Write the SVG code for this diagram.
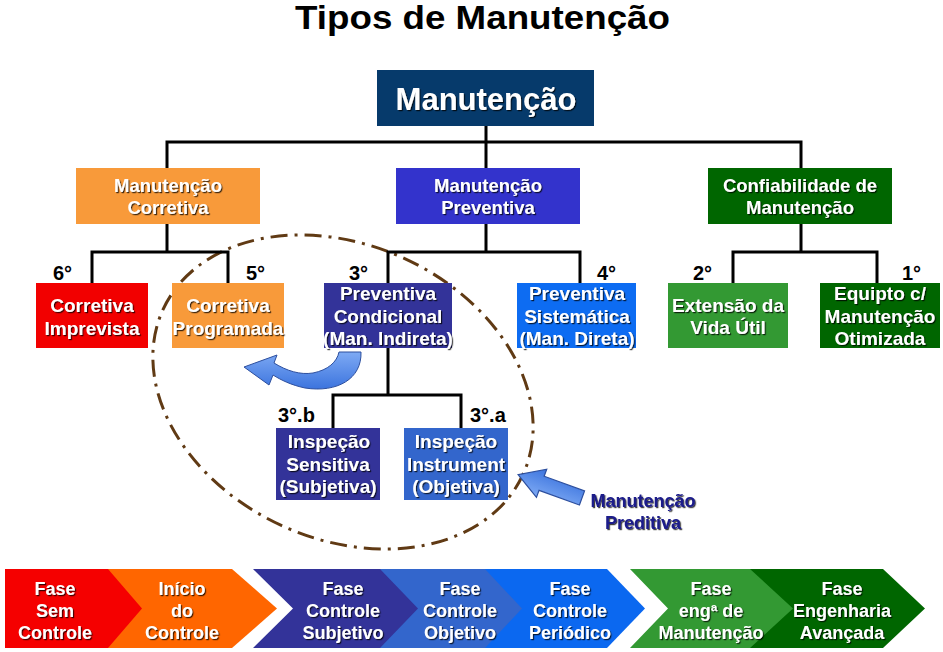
<svg xmlns="http://www.w3.org/2000/svg" width="943" height="652" viewBox="0 0 943 652">
<defs>
<filter id="sh" x="-10%" y="-20%" width="125%" height="150%"><feDropShadow dx="1.2" dy="1.2" stdDeviation="0.5" flood-color="#000" flood-opacity="0.75"/></filter>
<linearGradient id="ag" x1="0" y1="0" x2="0" y2="1"><stop offset="0" stop-color="#7eaaf4"/><stop offset="1" stop-color="#3c74de"/></linearGradient>
<style>
text{font-family:"Liberation Sans",Arial,sans-serif;font-weight:bold}
.w{fill:#fff;text-anchor:middle;filter:url(#sh)}
.l2{font-size:18.5px}
.l3{font-size:19px}
.ph{font-size:18px}
.num{font-size:20px;fill:#000}
.ln{stroke:#000;stroke-width:3;fill:none;stroke-linecap:square}
</style>
</defs>
<rect width="943" height="652" fill="#fff"/>
<text x="482.5" y="29" text-anchor="middle" font-size="33" textLength="375" lengthAdjust="spacingAndGlyphs" fill="#000">Tipos de Manutenção</text>

<ellipse id="preditiva-zone" cx="343" cy="392" rx="198" ry="147" transform="rotate(24.6 343 392)" fill="none" stroke="#603a14" stroke-width="3" stroke-dasharray="17 7 3 7"/>

<g id="connectors">
<path class="ln" d="M486 126V142M167 142H801M167 142V167M486 142V167M801 142V167"/>
<path class="ln" d="M167 224V252M92 252H228M92 252V283M228 252V283"/>
<path class="ln" d="M486 224V252M388 252H580M388 252V283M580 252V283"/>
<path class="ln" d="M801 224V252M733 252H877M733 252V283M877 252V283"/>
<path class="ln" d="M388 348V395M333 395H461M333 395V428M461 395V428"/>
</g>

<g id="manutencao"><rect x="377" y="70" width="217" height="56" fill="#063a6b"/><text class="w" x="486" y="110" font-size="31">Manutenção</text></g>

<g id="corretiva"><rect x="76" y="168" width="184" height="56" fill="#f89a3a"/><text class="w l2" x="168" y="192">Manutenção</text><text class="w l2" x="168" y="214">Corretiva</text></g>
<g id="preventiva"><rect x="396" y="168" width="184" height="56" fill="#3333cc"/><text class="w l2" x="488" y="192">Manutenção</text><text class="w l2" x="488" y="214">Preventiva</text></g>
<g id="confiabilidade"><rect x="708" y="168" width="184" height="56" fill="#006600"/><text class="w l2" x="800" y="192">Confiabilidade de</text><text class="w l2" x="800" y="214">Manutenção</text></g>

<g id="corretiva-imprevista"><text class="num" x="53" y="280">6°</text><rect x="36" y="283" width="112" height="65" fill="#f20000"/><text class="w l3" x="92" y="312">Corretiva</text><text class="w l3" x="92" y="335">Imprevista</text></g>
<g id="corretiva-programada"><text class="num" x="246" y="280">5°</text><rect x="172" y="283" width="112" height="65" fill="#f89a3a"/><text class="w l3" x="228" y="312">Corretiva</text><text class="w l3" x="228" y="335">Programada</text></g>
<g id="preventiva-condicional"><text class="num" x="349" y="280">3°</text><rect x="324" y="283" width="128" height="65" fill="#333399"/><text class="w l3" x="388" y="300">Preventiva</text><text class="w l3" x="388" y="323">Condicional</text><text class="w l3" x="388" y="345">(Man. Indireta)</text></g>
<g id="preventiva-sistematica"><text class="num" x="597" y="280">4°</text><rect x="517" y="283" width="119" height="65" fill="#0d6cf2"/><text class="w l3" x="577" y="300">Preventiva</text><text class="w l3" x="577" y="323">Sistemática</text><text class="w l3" x="577" y="345">(Man. Direta)</text></g>
<g id="extensao"><text class="num" x="693" y="280">2°</text><rect x="668" y="283" width="120" height="65" fill="#339933"/><text class="w l3" x="728" y="312">Extensão da</text><text class="w l3" x="728" y="334">Vida Útil</text></g>
<g id="equipto"><text class="num" x="902" y="280">1°</text><rect x="820" y="283" width="120" height="65" fill="#006600"/><text class="w l3" x="880" y="300">Equipto c/</text><text class="w l3" x="880" y="323">Manutenção</text><text class="w l3" x="880" y="345">Otimizada</text></g>

<g id="inspecao-sensitiva"><text class="num" x="278" y="422">3°.b</text><rect x="276" y="428" width="104" height="72" fill="#333399"/><text class="w l3" x="329" y="448">Inspeção</text><text class="w l3" x="328" y="471">Sensitiva</text><text class="w l3" x="328" y="493">(Subjetiva)</text></g>
<g id="inspecao-instrument"><text class="num" x="470" y="422">3°.a</text><rect x="404" y="428" width="104" height="72" fill="#3366cc"/><text class="w l3" x="456" y="448">Inspeção</text><text class="w l3" x="456" y="471">Instrument</text><text class="w l3" x="456" y="493">(Objetiva)</text></g>

<g id="curved-arrow"><path d="M339 352L361 352C362 379 337 393 305 388C291 385 281 380 273 375L269 385L244 367L277 355L274 363C287 371 300 375 313 373C328 370 337 362 339 352Z" fill="url(#ag)" stroke="#2d4f9e" stroke-width="1"/></g>

<g id="preditiva-arrow"><path d="M0 -7.5H43V-15L68 0L43 15V7.5H0Z" transform="translate(582 498) rotate(200)" fill="url(#ag)" stroke="#2d4f9e" stroke-width="1.2"/></g>
<g id="manutencao-preditiva"><text x="643" y="507" text-anchor="middle" font-size="18" fill="#1a1a8a" filter="url(#sh)">Manutenção</text><text x="643" y="529" text-anchor="middle" font-size="18" fill="#1a1a8a" filter="url(#sh)">Preditiva</text></g>

<g id="phases">
<polygon points="100,569 232,569 277,608.5 232,648 100,648" fill="#ff6600"/>
<polygon points="5,569 108,569 142,608.5 108,648 5,648" fill="#f50000"/>
<polygon points="480,569 607,569 645,608.5 607,648 480,648" fill="#0b68f0"/>
<polygon points="380,569 485,569 522,608.5 485,648 380,648" fill="#3366cc"/>
<polygon points="253,569 380,569 418,608.5 380,648 253,648 293,608.5" fill="#333399"/>
<polygon points="740,569 883,569 925,608.5 883,648 740,648" fill="#006600"/>
<polygon points="630,569 750,569 793,608.5 750,648 630,648 668,608.5" fill="#339933"/>
<g>
<text class="w ph" x="55" y="595">Fase</text><text class="w ph" x="55" y="617">Sem</text><text class="w ph" x="55" y="639">Controle</text>
<text class="w ph" x="182" y="595">Início</text><text class="w ph" x="182" y="617">do</text><text class="w ph" x="182" y="639">Controle</text>
<text class="w ph" x="343" y="595">Fase</text><text class="w ph" x="343" y="617">Controle</text><text class="w ph" x="343" y="639">Subjetivo</text>
<text class="w ph" x="460" y="595">Fase</text><text class="w ph" x="460" y="617">Controle</text><text class="w ph" x="460" y="639">Objetivo</text>
<text class="w ph" x="570" y="595">Fase</text><text class="w ph" x="570" y="617">Controle</text><text class="w ph" x="570" y="639">Periódico</text>
<text class="w ph" x="711" y="595">Fase</text><text class="w ph" x="711" y="617">engª de</text><text class="w ph" x="711" y="639">Manutenção</text>
<text class="w ph" x="842" y="595">Fase</text><text class="w ph" x="842" y="617">Engenharia</text><text class="w ph" x="842" y="639">Avançada</text>
</g>
</g>
</svg>
